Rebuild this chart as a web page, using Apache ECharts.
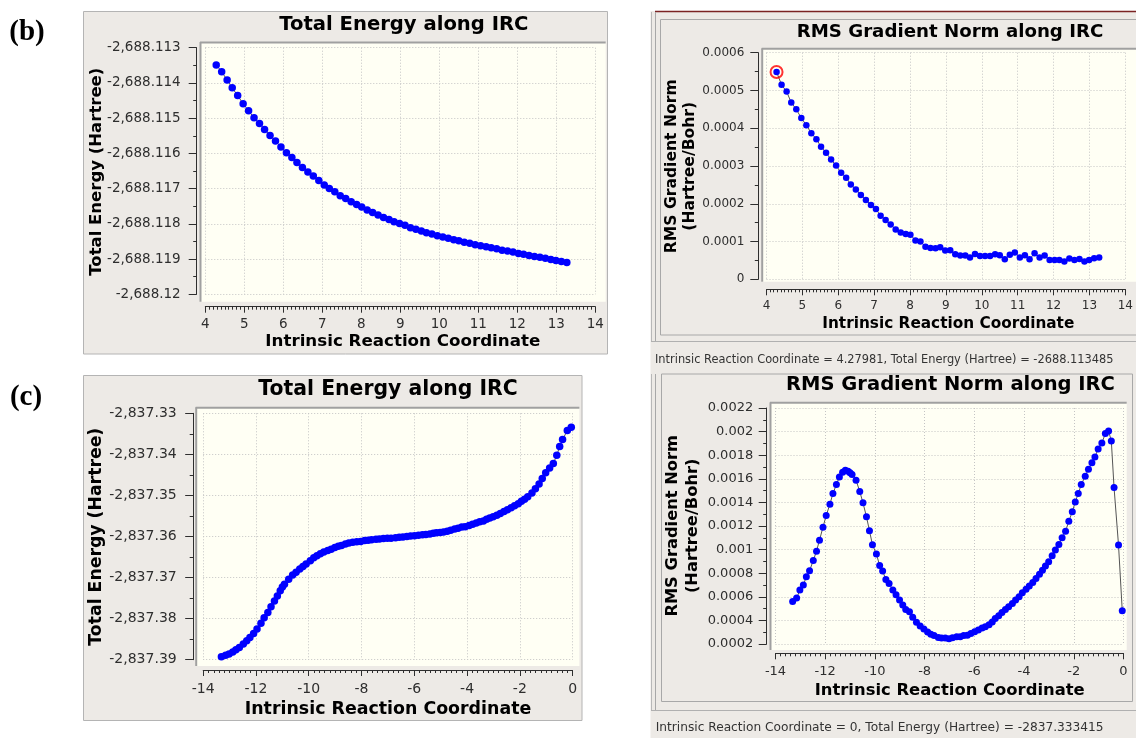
<!DOCTYPE html>
<html>
<head>
<meta charset="utf-8">
<script src="https://cdn.jsdelivr.net/npm/echarts@6/dist/echarts.min.js"></script>
<style>
html,body{margin:0;padding:0;background:#ffffff;}
#chart{width:1136px;height:738px;}
</style>
</head>
<body>
<div id="chart"></div>
<script>
// ---------- DATA ----------
// Panel (b): IRC coordinate, total energy (Hartree), RMS gradient norm (Hartree/Bohr)
var bIrc = [4.28,4.42,4.56,4.69,4.83,4.97,5.11,5.25,5.39,5.52,5.66,5.80,5.94,6.08,6.22,6.35,6.49,6.63,6.77,6.91,
7.05,7.18,7.32,7.46,7.60,7.74,7.88,8.01,8.15,8.29,8.43,8.57,8.71,8.84,8.98,9.12,9.26,9.40,9.54,9.67,
9.81,9.95,10.09,10.23,10.37,10.50,10.64,10.78,10.92,11.06,11.20,11.33,11.47,11.61,11.75,11.89,12.03,12.16,12.30,12.44,
12.58,12.72,12.86,12.99,13.13,13.27];
var bEnergy = [-2688.11349,-2688.11368,-2688.11392,-2688.11414,-2688.11436,-2688.11459,-2688.11479,-2688.11499,-2688.11515,-2688.11532,
-2688.11549,-2688.11565,-2688.11582,-2688.11598,-2688.11612,-2688.11626,-2688.11640,-2688.11653,-2688.11664,-2688.11677,
-2688.11690,-2688.11700,-2688.11709,-2688.11720,-2688.11728,-2688.11737,-2688.11745,-2688.11752,-2688.11761,-2688.11768,
-2688.11775,-2688.11782,-2688.11788,-2688.11794,-2688.11799,-2688.11804,-2688.11811,-2688.11815,-2688.11820,-2688.11825,
-2688.11829,-2688.11834,-2688.11837,-2688.11841,-2688.11845,-2688.11848,-2688.11852,-2688.11855,-2688.11859,-2688.11862,
-2688.11865,-2688.11868,-2688.11871,-2688.11875,-2688.11877,-2688.11880,-2688.11884,-2688.11886,-2688.11890,-2688.11893,
-2688.11895,-2688.11898,-2688.11901,-2688.11904,-2688.11907,-2688.11910];
var bGrad = [0.000549,0.000515,0.000497,0.000468,0.000450,0.000427,0.000408,0.000387,0.000371,0.000351,
0.000335,0.000317,0.000301,0.000282,0.000269,0.000251,0.000238,0.000223,0.000210,0.000197,
0.000186,0.000168,0.000157,0.000145,0.000132,0.000124,0.000120,0.000118,0.000103,0.000100,
0.000086,0.000083,0.000082,0.000085,0.000076,0.000077,0.000066,0.000063,0.000063,0.000058,
0.000067,0.000062,0.000062,0.000062,0.000066,0.000064,0.000053,0.000065,0.000071,0.000058,
0.000064,0.000053,0.000069,0.000058,0.000063,0.000051,0.000051,0.000051,0.000047,0.000055,
0.000051,0.000054,0.000047,0.000051,0.000056,0.000058];

// Panel (c)
var cIrc = [-13.31,-13.15,-13.02,-12.88,-12.76,-12.63,-12.48,-12.35,-12.23,-12.09,
-11.96,-11.81,-11.69,-11.55,-11.43,-11.30,-11.19,-11.08,-11.00,-10.92,
-10.76,-10.61,-10.48,-10.34,-10.22,-10.10,-9.94,-9.81,-9.69,-9.56,
-9.43,-9.28,-9.15,-9.01,-8.88,-8.76,-8.61,-8.48,-8.33,-8.18,
-8.03,-7.88,-7.75,-7.62,-7.45,-7.32,-7.17,-7.02,-6.88,-6.71,
-6.57,-6.43,-6.28,-6.14,-5.99,-5.84,-5.69,-5.56,-5.41,-5.28,
-5.16,-5.02,-4.89,-4.75,-4.62,-4.47,-4.34,-4.20,-4.07,-3.92,
-3.79,-3.65,-3.52,-3.38,-3.26,-3.14,-3.01,-2.87,-2.74,-2.60,
-2.47,-2.33,-2.20,-2.06,-1.94,-1.82,-1.70,-1.54,-1.41,-1.27,
-1.15,-1.02,-0.87,-0.73,-0.60,-0.49,-0.38,-0.20,-0.05];
var cEnergy = [-2837.3893,-2837.3889,-2837.3886,-2837.3881,-2837.3876,-2837.3870,-2837.3862,-2837.3854,-2837.3846,-2837.3836,
-2837.3825,-2837.3811,-2837.3798,-2837.3785,-2837.3771,-2837.3757,-2837.3745,-2837.3732,-2837.3723,-2837.3716,
-2837.3704,-2837.3694,-2837.3687,-2837.3679,-2837.3673,-2837.3667,-2837.3659,-2837.3652,-2837.3647,-2837.3642,
-2837.3638,-2837.3634,-2837.3631,-2837.3627,-2837.3624,-2837.3622,-2837.3618,-2837.3616,-2837.3614,-2837.3613,
-2837.3612,-2837.3610,-2837.3609,-2837.3608,-2837.3607,-2837.3606,-2837.3605,-2837.3604,-2837.3604,-2837.3603,
-2837.3602,-2837.3601,-2837.3600,-2837.3599,-2837.3598,-2837.3597,-2837.3596,-2837.3595,-2837.3594,-2837.3592,
-2837.3591,-2837.3590,-2837.3589,-2837.3587,-2837.3585,-2837.3582,-2837.3580,-2837.3577,-2837.3576,-2837.3573,
-2837.3570,-2837.3567,-2837.3564,-2837.3562,-2837.3558,-2837.3555,-2837.3552,-2837.3548,-2837.3544,-2837.3539,
-2837.3535,-2837.3530,-2837.3525,-2837.3520,-2837.3514,-2837.3509,-2837.3503,-2837.3494,-2837.3484,-2837.3472,
-2837.3459,-2837.3445,-2837.3433,-2837.3422,-2837.3402,-2837.3381,-2837.3364,-2837.3342,-2837.3334];
var cGrad = [0.000561,0.000589,0.000657,0.000699,0.000770,0.000821,0.000908,0.000987,0.001080,0.001190,
0.001289,0.001385,0.001475,0.001551,0.001616,0.001656,0.001672,0.001664,0.001652,0.001636,
0.001588,0.001492,0.001396,0.001278,0.001160,0.001041,0.000962,0.000866,0.000818,0.000747,
0.000713,0.000657,0.000617,0.000572,0.000530,0.000493,0.000474,0.000426,0.000384,0.000352,
0.000327,0.000302,0.000282,0.000271,0.000256,0.000251,0.000251,0.000245,0.000254,0.000262,
0.000262,0.000271,0.000274,0.000290,0.000304,0.000318,0.000335,0.000347,0.000364,0.000386,
0.000417,0.000440,0.000468,0.000493,0.000516,0.000544,0.000572,0.000601,0.000634,0.000663,
0.000691,0.000722,0.000756,0.000792,0.000826,0.000860,0.000897,0.000948,0.000996,0.001043,
0.001100,0.001156,0.001241,0.001320,0.001404,0.001475,0.001551,0.001622,0.001681,0.001735,
0.001785,0.001853,0.001904,0.001983,0.002005,0.001921,0.001526,0.001038,0.000482];

// Texts
var panelLabels = ['(b)', '(c)'];
var energyTitle = 'Total Energy along IRC';
var gradTitle = 'RMS Gradient Norm along IRC';
var xName = 'Intrinsic Reaction Coordinate';
var energyYName = 'Total Energy (Hartree)';
var gradYName = ['RMS Gradient Norm', '(Hartree/Bohr)'];
var statusB = 'Intrinsic Reaction Coordinate = 4.27981, Total Energy (Hartree) = -2688.113485';
var statusC = 'Intrinsic Reaction Coordinate = 0, Total Energy (Hartree) = -2837.333415';

// ---------- STYLE / LAYOUT ----------
var FONT = 'DejaVu Sans';
var PANEL_BG = '#edeae6';
var PLOT_BG = '#fffff4';
var AXIS_C = '#2e2e2e';
var GRID_C = '#c4c4c4';

function pairs(xs, ys){ return xs.map(function(x,i){ return [x, ys[i]]; }); }
function fmtE3(v){ return (Math.round(v*1000)/1000).toLocaleString('en-US',{maximumFractionDigits:3}); }
function fmtE2(v){ return (Math.round(v*100)/100).toLocaleString('en-US',{maximumFractionDigits:2}); }
function fmtG(v){ return String(Number(v.toFixed(4))); }

function xAx(gi, min, max, interval, offset, fs, margin, minorSplit){
  return {type:'value', gridIndex:gi, min:min, max:max, interval:interval, offset:offset, position:'bottom',
    axisLine:{show:true, onZero:false, lineStyle:{color:AXIS_C, width:1}},
    axisTick:{show:true, inside:false, length:6, lineStyle:{color:AXIS_C, width:1}},
    minorTick:{show:true, splitNumber:minorSplit, length:3, lineStyle:{color:AXIS_C, width:1}},
    axisLabel:{fontSize:fs, color:AXIS_C, margin:margin, fontFamily:FONT},
    splitLine:{show:true, lineStyle:{color:GRID_C, type:[1,2], width:1}},
    minorSplitLine:{show:false}
  };
}
function yAx(gi, min, max, interval, offset, fs, margin, fmt){
  return {type:'value', gridIndex:gi, min:min, max:max, interval:interval, offset:offset, position:'left',
    axisLine:{show:true, onZero:false, lineStyle:{color:AXIS_C, width:1}},
    axisTick:{show:true, inside:false, length:8, lineStyle:{color:AXIS_C, width:1}},
    minorTick:{show:true, splitNumber:2, length:3.5, lineStyle:{color:AXIS_C, width:1}},
    axisLabel:{fontSize:fs, color:AXIS_C, margin:margin, fontFamily:FONT, formatter:fmt},
    splitLine:{show:true, lineStyle:{color:GRID_C, type:[1,2], width:1}},
    minorSplitLine:{show:false}
  };
}
function ptsSeries(xi, yi, data, size){
  return {type:'line', xAxisIndex:xi, yAxisIndex:yi, data:data, showSymbol:true, showAllSymbol:true,
    symbol:'circle', symbolSize:size, itemStyle:{color:'#0000ff'}, lineStyle:{color:'#555555', width:1},
    emphasis:{disabled:true}, z:3};
}

// graphic helpers
function rect(x,y,w,h,fill,stroke,lw,z){ return {type:'rect', shape:{x:x,y:y,width:w,height:h}, style:{fill:fill||'none', stroke:stroke||null, lineWidth:lw||1}, z:z, silent:true}; }
function seg(x1,y1,x2,y2,stroke,lw,z){ return {type:'line', shape:{x1:x1,y1:y1,x2:x2,y2:y2}, style:{stroke:stroke, lineWidth:lw||1}, z:z, silent:true}; }
function txt(x,y,s,fs,bold,rot,align,family,color){
  return {type:'text', x:x, y:y, rotation:rot||0, z:20, silent:true,
    style:{text:s, fontSize:fs, fontWeight:bold?'bold':'normal', fontFamily:family||FONT, fill:color||'#000000',
      align:align||'center', verticalAlign:'middle'}};
}
function plotBg(x,y,w,h){
  return [rect(x,y,w,h,PLOT_BG,null,0,-8), seg(x,y+0.5,x+w,y+0.5,'#a0a0a0',2,-7), seg(x+0.5,y,x+0.5,y+h,'#a0a0a0',2,-7)];
}

var graphics = [];
// left column panel boxes
graphics.push(rect(83.5,11.5,524,342.5,PANEL_BG,'#b4b4b4',1,-10));
graphics.push(rect(83.5,375.5,498.5,345,PANEL_BG,'#b4b4b4',1,-10));
// right column frame
graphics.push(rect(650.5,11,486,727,PANEL_BG,null,0,-10));
graphics.push(seg(655,11.5,1136,11.5,'#7b2323',1.5,-9));
graphics.push(seg(651.5,12,651.5,341,'#b8b8b8',1,-9));
graphics.push(seg(655.5,12,655.5,341,'#a8a8a8',1,-9));
graphics.push(seg(651,341.5,1136,341.5,'#b0b0b0',1,-9));
graphics.push(seg(651.5,374,651.5,710,'#b8b8b8',1,-9));
graphics.push(seg(655.5,374,655.5,710,'#a8a8a8',1,-9));
graphics.push(seg(651,710.5,1136,710.5,'#b0b0b0',1,-9));
graphics.push(rect(660.5,19.5,490,315.5,null,'#a8a8a8',1,-9));
graphics.push(rect(661.5,374,471,327.5,null,'#a8a8a8',1,-9));
// plot backgrounds
graphics = graphics.concat(plotBg(200,42,405.7,259.7));
graphics = graphics.concat(plotBg(761.7,48.3,380,233.4));
graphics = graphics.concat(plotBg(195.7,407.3,383.7,258.7));
graphics = graphics.concat(plotBg(770,402.3,356.7,247.7));
// texts
graphics.push(txt(27,33,panelLabels[0],29,true,0,'center','Liberation Serif'));
graphics.push(txt(26,398,panelLabels[1],29,true,0,'center','Liberation Serif'));
graphics.push(txt(403.8,25,energyTitle,19.6,true));
graphics.push(txt(402.8,341.7,xName,16.7,true));
graphics.push(txt(97,171.7,energyYName,16.5,true,Math.PI/2));
graphics.push(txt(950,32.3,gradTitle,18.2,true));
graphics.push(txt(948.3,324,xName,15.3,true));
graphics.push(txt(671.7,166.3,gradYName[0],15.6,true,Math.PI/2));
graphics.push(txt(690,166.3,gradYName[1],15.6,true,Math.PI/2));
graphics.push(txt(655,360,statusB,11.4,false,0,'left',FONT,'#333333'));
graphics.push(txt(388,390,energyTitle,20.4,true));
graphics.push(txt(388,709.3,xName,17.4,true));
graphics.push(txt(96.4,536.7,energyYName,17.3,true,Math.PI/2));
graphics.push(txt(950.5,385,gradTitle,19.5,true));
graphics.push(txt(949.7,690.7,xName,16.4,true));
graphics.push(txt(672.3,525.8,gradYName[0],16.3,true,Math.PI/2));
graphics.push(txt(692.3,525.8,gradYName[1],16.3,true,Math.PI/2));
graphics.push(txt(655.7,728,statusC,12.2,false,0,'left',FONT,'#333333'));

var option = {
  animation:false,
  backgroundColor:'#ffffff',
  grid:[
    {left:205.3, top:47.7, width:390, height:246.6},
    {left:766.5, top:52.7, width:362.5, height:226.6},
    {left:203.2, top:413.3, width:369.4, height:246.4},
    {left:775.5, top:408, width:348, height:236}
  ],
  xAxis:[
    xAx(0, 4, 14, 1, 12.4, 13.5, 11, 10),
    xAx(1, 4, 14, 1, 10, 12, 11, 10),
    xAx(2, -14, 0, 2, 10.3, 14, 12, 10),
    xAx(3, -14, 0, 2, 9.3, 13, 12, 10)
  ],
  yAxis:[
    yAx(0, -2688.12, -2688.113, 0.001, 8.6, 13.5, 16, fmtE3),
    yAx(1, 0, 0.0006, 0.0001, 8.2, 12, 14, fmtG),
    yAx(2, -2837.39, -2837.33, 0.01, 10, 14, 16.5, fmtE2),
    yAx(3, 0.0002, 0.0022, 0.0002, 8.8, 13, 13.5, fmtG)
  ],
  series:[
    ptsSeries(0,0,pairs(bIrc,bEnergy),7.5),
    ptsSeries(1,1,pairs(bIrc,bGrad),6.5),
    ptsSeries(2,2,pairs(cIrc,cEnergy),7.5),
    ptsSeries(3,3,pairs(cIrc,cGrad),7),
    {type:'scatter', xAxisIndex:1, yAxisIndex:1, data:[[bIrc[0], bGrad[0]]], symbol:'circle', symbolSize:12,
     itemStyle:{color:'rgba(0,0,0,0)', borderColor:'#ff0000', borderWidth:2}, z:5, silent:true}
  ],
  graphic:{elements:graphics}
};
var chart = echarts.init(document.getElementById('chart'), null, {renderer:'canvas'});
chart.setOption(option);
</script>
</body>
</html>
